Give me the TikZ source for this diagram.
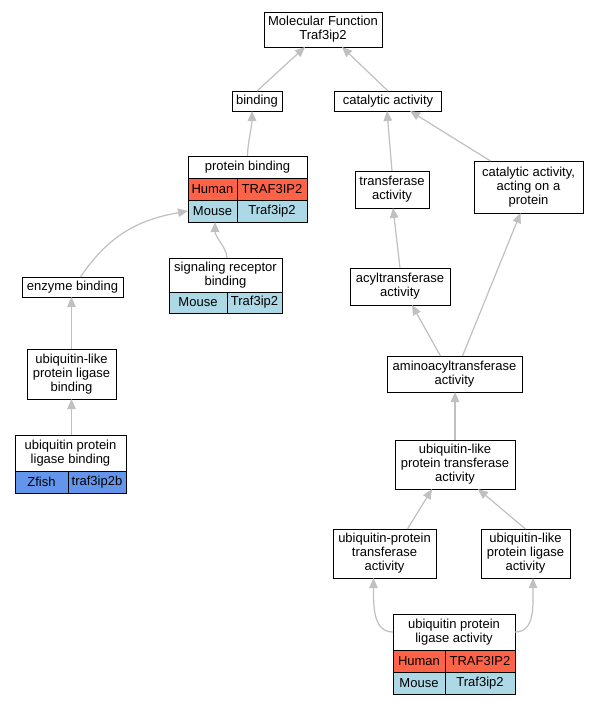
\documentclass[tikz,border=0pt]{standalone}
\usepackage{fontspec}
\setmainfont{Liberation Sans}
\usetikzlibrary{arrows.meta,calc}
\definecolor{human}{HTML}{FF6347}
\definecolor{mouse}{HTML}{ADD8E6}
\definecolor{zfish}{HTML}{6495ED}
\definecolor{edgec}{HTML}{C0C0C0}
\begin{document}
\begin{tikzpicture}[x=1pt,y=1pt,
  font=\fontsize{13}{14}\selectfont,
  box/.style={draw, line width=1pt, fill=white, inner sep=0pt, outer sep=0pt, align=center},
  cell/.style={draw, line width=1pt, inner sep=0pt, outer sep=0pt, minimum height=22pt, anchor=north west},
  link/.style={draw=edgec, line width=1.2pt, -{Triangle[length=10pt,width=8.5pt]}}]
\fill[white] (0,0) rectangle (597,-704);
\useasboundingbox (0,0) rectangle (597,-704);
% nodes
\node[box, minimum width=118pt, minimum height=35pt] (mf) at (323,-29.5) {Molecular Function\\Traf3ip2};
\node[box, minimum width=50pt, minimum height=20pt] (bind) at (257,-101) {binding};
\node[box, minimum width=107pt, minimum height=20pt] (cat) at (388,-101) {catalytic activity};
% protein binding table
\node[box, minimum width=119pt, minimum height=22pt] (pb) at (247.5,-167) {protein binding};
\node[cell, fill=human, minimum width=49pt] (pbh1) at (pb.south west) {Human};
\node[cell, fill=human, minimum width=70pt] (pbh2) at (pbh1.north east) {TRAF3IP2};
\node[cell, fill=mouse, minimum width=49pt] (pbm1) at (pbh1.south west) {Mouse};
\node[cell, fill=mouse, minimum width=70pt] (pbm2) at (pbm1.north east) {Traf3ip2};
\node[box, minimum width=74pt, minimum height=37pt] (tr) at (392,-189.5) {transferase\\activity};
\node[box, minimum width=109pt, minimum height=52pt] (cap) at (528.5,-187) {catalytic activity,\\acting on a\\protein};
\node[box, minimum width=101pt, minimum height=20pt] (eb) at (72.5,-287) {enzyme binding};
% signaling receptor binding table
\node[box, minimum width=113pt, minimum height=34pt] (sr) at (225.5,-275) {signaling receptor\\binding};
\node[cell, fill=mouse, minimum width=58pt, minimum height=21pt] (srm1) at (sr.south west) {Mouse};
\node[cell, fill=mouse, minimum width=55pt, minimum height=21pt] (srm2) at (srm1.north east) {Traf3ip2};
\node[box, minimum width=100pt, minimum height=37pt] (acy) at (400,-286.5) {acyltransferase\\activity};
\node[box, minimum width=135pt, minimum height=36pt] (ami) at (454.5,-374) {aminoacyltransferase\\activity};
\node[box, minimum width=89pt, minimum height=50pt] (ulb) at (71.5,-374) {ubiquitin-like\\protein ligase\\binding};
% ubiquitin protein ligase binding table
\node[box, minimum width=111pt, minimum height=36pt] (upb) at (70.5,-453) {ubiquitin protein\\ligase binding};
\node[cell, fill=zfish, minimum width=53pt] (upbz1) at (upb.south west) {Zfish};
\node[cell, fill=zfish, minimum width=58pt] (upbz2) at (upbz1.north east) {traf3ip2b};
\node[box, minimum width=120pt, minimum height=49pt] (ult) at (455,-464.5) {ubiquitin-like\\protein transferase\\activity};
\node[box, minimum width=103pt, minimum height=49pt] (upt) at (384.5,-553.5) {ubiquitin-protein\\transferase\\activity};
\node[box, minimum width=89pt, minimum height=49pt] (ula) at (525.5,-553.5) {ubiquitin-like\\protein ligase\\activity};
% ubiquitin protein ligase activity table
\node[box, minimum width=122pt, minimum height=36pt] (upa) at (454,-632) {ubiquitin protein\\ligase activity};
\node[cell, fill=human, minimum width=52pt] (upah1) at (upa.south west) {Human};
\node[cell, fill=human, minimum width=70pt] (upah2) at (upah1.north east) {TRAF3IP2};
\node[cell, fill=mouse, minimum width=52pt] (upam1) at (upah1.south west) {Mouse};
\node[cell, fill=mouse, minimum width=70pt] (upam2) at (upam1.north east) {Traf3ip2};
% edges
\draw[link] (bind.north) -- ($(mf.south)+(-18,0)$);
\draw[link] (cat.north) -- ($(mf.south)+(19,0)$);
\draw[link] (pb.north) .. controls +(0,12) and +(0,-15) .. ($(bind.south)+(-5,0)$);
\draw[link] (tr.north) -- ($(cat.south)+(-1,0)$);
\draw[link] ($(cap.north)+(-38,0)$) -- ($(cat.south)+(22,0)$);
\draw[link] ($(eb.north)+(8,0)$) .. controls +(30,45) and +(-45,-8) .. (pbm1.west);
\draw[link] ($(sr.north)+(1.5,0)$) .. controls +(0,10) and +(0,-15) .. ($(pbm1.south)+(2.5,0)$);
\draw[link] (acy.north) -- ($(tr.south)+(1,0)$);
\draw[link] ($(ami.north)+(-14,0)$) -- ($(acy.south)+(12,0)$);
\draw[link] ($(ami.north)+(8,0)$) -- ($(cap.south)+(-8,0)$);
\draw[link] (ulb.north) -- (ulb.north |- eb.south);
\draw[link] (ulb.south |- upb.north) -- (ulb.south);
\draw[link] (ult.north) -- (ami.south -| ult.north);
\draw[link] ($(upt.north)+(23,0)$) -- ($(ult.south)+(-23,0)$);
\draw[link] (ula.north) -- ($(ult.south)+(23,0)$);
\draw[link] (upa.west) .. controls +(-20,0) and +(0,-28) .. ($(upt.south)+(-11,0)$);
\draw[link] (upa.east) .. controls +(20,0) and +(0,-28) .. ($(ula.south)+(7.5,0)$);
\end{tikzpicture}
\end{document}
